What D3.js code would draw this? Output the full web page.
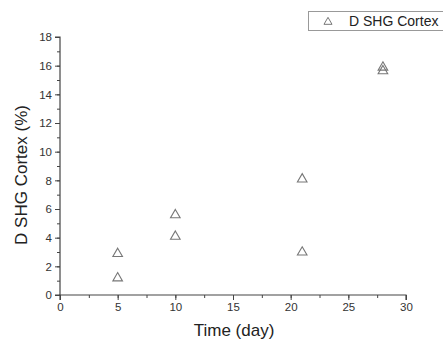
<!DOCTYPE html>
<html><head><meta charset="utf-8">
<script src="https://cdn.jsdelivr.net/npm/d3@7"></script>
<style>body{margin:0;background:#fff}svg{display:block;font-family:Arial,"Liberation Sans",sans-serif}</style>
</head><body><svg id="c" width="443" height="343"></svg>
<script>
const days = [5, 5, 10, 10, 21, 21, 28, 28];
const shgCortex = [2.95, 1.25, 5.65, 4.15, 8.15, 3.05, 15.7, 15.95];
const xTicks = [0, 5, 10, 15, 20, 25, 30];
const yTicks = [0, 2, 4, 6, 8, 10, 12, 14, 16, 18];
const seriesName = "D SHG Cortex";

const svg = d3.select("#c");
const x = d3.scaleLinear().domain([0, 30]).range([60, 406]);
const y = d3.scaleLinear().domain([0, 18]).range([295, 37]);
const axisColor = "#444", textColor = "#333";

// minor ticks
const gx = svg.append("g").attr("transform", "translate(0,295)")
  .call(d3.axisBottom(x).tickValues(d3.range(0, 30.01, 2.5)).tickSize(3).tickFormat(""));
const gxm = svg.append("g").attr("transform", "translate(0,295)")
  .call(d3.axisBottom(x).tickValues(xTicks).tickSize(5).tickFormat(d3.format("d")).tickPadding(3));
const gy = svg.append("g").attr("transform", "translate(60,0)")
  .call(d3.axisLeft(y).tickValues(d3.range(0, 18.01, 1)).tickSize(3).tickFormat(""));
const gym = svg.append("g").attr("transform", "translate(60,0)")
  .call(d3.axisLeft(y).tickValues(yTicks).tickSize(5).tickFormat(d3.format("d")).tickPadding(3));
[gx, gxm, gy, gym].forEach(g => {
  g.selectAll("path").attr("stroke", axisColor).attr("stroke-width", 1.2);
  g.selectAll("line").attr("stroke", axisColor);
  g.selectAll("text").attr("fill", textColor).style("font-size", "11.5px");
});
gx.select("path").remove(); gy.select("path").remove();
gxm.select("path").attr("d", `M${x(0)},5V0H${x(30)}V5`);
gym.select("path").attr("d", `M-5,${y(0)}H0V${y(18)}H-5`);

// triangles
const tri = d3.symbol().type(d3.symbolTriangle).size(40);
svg.append("g").selectAll("path").data(days).join("path")
  .attr("d", tri)
  .attr("transform", (d, i) => `translate(${x(d)},${y(shgCortex[i]) + 1})`)
  .attr("fill", "none").attr("stroke", "#777").attr("stroke-width", 1.1);

// titles
svg.append("text").attr("x", 234).attr("y", 336).attr("text-anchor", "middle")
  .attr("fill", "#222").style("font-size", "17px").text("Time (day)");
svg.append("text").attr("transform", "translate(27,175) rotate(-90)").attr("text-anchor", "middle")
  .attr("fill", "#222").style("font-size", "17px").text("D SHG Cortex (%)");

// legend
const lg = svg.append("g");
lg.append("rect").attr("x", 308.5).attr("y", 11.5).attr("width", 140).attr("height", 19)
  .attr("fill", "#fff").attr("stroke", "#999");
lg.append("path").attr("d", d3.symbol().type(d3.symbolTriangle).size(28))
  .attr("transform", "translate(328,22)").attr("fill", "none").attr("stroke", "#777");
lg.append("text").attr("x", 349).attr("y", 26).attr("fill", "#222")
  .style("font-size", "14px").text(seriesName);
</script></body></html>
